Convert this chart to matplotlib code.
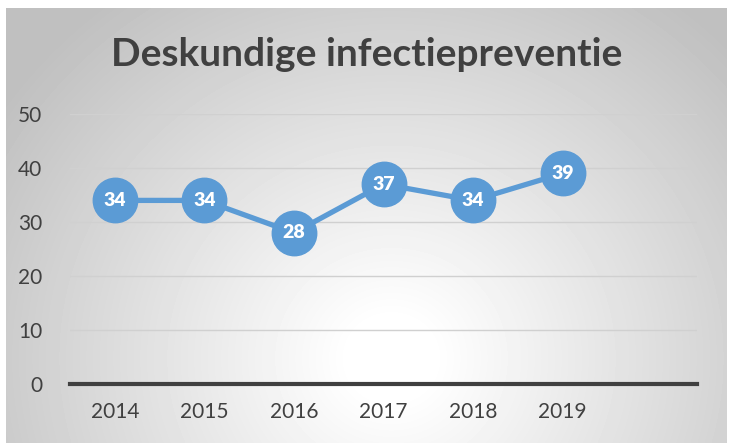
import matplotlib
matplotlib.use("Agg")
import matplotlib.pyplot as plt
import numpy as np

plt.rcParams["font.family"] = ["Lato", "DejaVu Sans"]

years = ["2014", "2015", "2016", "2017", "2018", "2019"]
values = [34, 34, 28, 37, 34, 39]
n_slots = 7  # one empty category at the end, like the original
title = "Deskundige infectiepreventie"

W, H = 734, 443
fig = plt.figure(figsize=(W / 100, H / 100), dpi=100)

# ========================================================================================= #
# radial grey-to-white background of the chart frame
bg = fig.add_axes([6 / W, 0, (727 - 6) / W, (H - 8) / H])
bg.set_axis_off()
ny, nx = 435, 721
yy, xx = np.mgrid[0:ny, 0:nx]
cx, cy = 385, 350
d = np.sqrt(((xx - cx) * 0.95) ** 2 + (yy - cy) ** 2)
v = 1 - 0.25 * np.clip((d - 40) / 410, 0, 1)
bg.imshow(v, cmap="gray", vmin=0, vmax=1, aspect="auto", extent=(0, 1, 0, 1))
bg.set_xlim(0, 1)
bg.set_ylim(0, 1)

# ========================================================================================= #
ax = fig.add_axes([70 / W, 59 / H, (697 - 70) / W, (384 - 114) / H])
ax.patch.set_alpha(0)
x = np.arange(len(years)) + 0.5
ax.plot(x, values, color="#5b9bd5", lw=3.8, marker="o", ms=32, clip_on=False, zorder=3)
for xi, yi in zip(x, values):
    ax.text(xi, yi, str(yi), ha="center", va="center", color="white",
            fontsize=14, fontweight="heavy", zorder=4)

ax.set_xlim(0, n_slots)
ax.set_ylim(0, 50)
ax.set_yticks(np.arange(0, 51, 10))
ax.set_xticks(x)
ax.set_xticklabels(years)
ax.grid(axis="y", color="#d0d0d0", lw=1)
ax.set_axisbelow(True)
for s in ["top", "right", "left"]:
    ax.spines[s].set_visible(False)
ax.spines["bottom"].set_color("#404040")
ax.spines["bottom"].set_linewidth(3)
ax.tick_params(length=0, labelsize=15, labelcolor="#404040")
ax.tick_params(axis="y", pad=20)
ax.tick_params(axis="x", pad=13)

fig.text(367 / W, 1 - 55 / H, title, ha="center", va="center",
         fontsize=28, fontweight="bold", color="#404040")

fig.savefig("out.png", dpi=100)
